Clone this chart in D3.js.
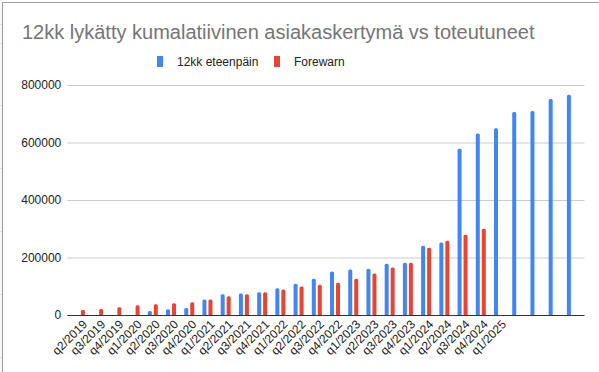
<!DOCTYPE html>
<html>
<head>
<meta charset="utf-8">
<script src="https://cdn.jsdelivr.net/npm/d3@7"></script>
<style>
  body { margin: 0; background: #fff; }
  svg { display: block; font-family: "Liberation Sans", Arial, sans-serif; }
</style>
</head>
<body>
<div id="chart"></div>
<script>
// quarters, last four columns have no label in the original
var quarters = ["q2/2019","q3/2019","q4/2019","q1/2020","q2/2020","q3/2020","q4/2020",
  "q1/2021","q2/2021","q3/2021","q4/2021","q1/2022","q2/2022","q3/2022","q4/2022",
  "q1/2023","q2/2023","q3/2023","q4/2023","q1/2024","q2/2024","q3/2024","q4/2024",
  "q1/2025","","","",""];

var eteenpain = [null,null,null,null,14000,20000,24000,
  54000,72000,75000,79000,93000,109000,126000,151000,
  158000,161000,178000,182000,241000,252000,578000,631000,
  650000,706000,710000,751000,766000];

var forewarn = [17000,21000,27000,34000,37000,41000,44000,
  54000,65000,72000,79000,89000,99000,105000,112000,
  126000,144000,165000,182000,234000,258000,279000,300000,
  null,null,null,null,null];

var seriesNames = ["12kk eteenpäin", "Forewarn"];
var seriesColors = ["#4285f4", "#ea4335"];
var yTicks = [0, 200000, 400000, 600000, 800000];

var width = 599, height = 372;

var svg = d3.select("#chart").append("svg")
  .attr("width", width)
  .attr("height", height);

// spreadsheet frame behind the chart
svg.append("rect").attr("x", 0).attr("y", 0).attr("width", 2).attr("height", height).attr("fill", "#f8f8f8");
[24, 43, 105, 168, 231, 294, 357].forEach(function(yy) {
  svg.append("line").attr("x1", 0).attr("x2", 2).attr("y1", yy + 0.5).attr("y2", yy + 0.5).attr("stroke", "#e2e2e2");
});
svg.append("line").attr("x1", 2.5).attr("x2", 2.5).attr("y1", 2).attr("y2", height).attr("stroke", "#9e9e9e");
svg.append("line").attr("x1", 2).attr("x2", width).attr("y1", 2.5).attr("y2", 2.5).attr("stroke", "#9e9e9e");

svg.append("text")
  .attr("x", 22)
  .attr("y", 39)
  .attr("fill", "#757575")
  .style("font-size", "20px")
  .text("12kk lykätty kumalatiivinen asiakaskertymä vs toteutuneet");

// legend
var legendX = [157, 274];
seriesNames.forEach(function(name, i) {
  var g = svg.append("g").attr("transform", "translate(" + legendX[i] + ",56)");
  g.append("rect").attr("width", 6).attr("height", 11).attr("fill", seriesColors[i]);
  g.append("text").attr("x", 20).attr("y", 10).attr("fill", "#222")
    .style("font-size", "12px").text(name);
});

var plotLeft = 67.3, plotRight = 584.5;

var y = d3.scaleLinear().domain([0, 800000]).range([315, 85]);

var x0 = d3.scaleBand()
  .domain(d3.range(quarters.length))
  .range([70.8, 581]);

var x1 = d3.scaleBand()
  .domain([0, 1])
  .range([0, 10])
  .paddingInner(1 / 3);

var yAxis = svg.append("g")
  .attr("transform", "translate(" + plotLeft + ",0)")
  .call(d3.axisLeft(y).tickValues(yTicks).tickSize(-(plotRight - plotLeft)).tickPadding(6).tickFormat(d3.format("d")));
yAxis.select(".domain").remove();
yAxis.selectAll(".tick line").attr("stroke", "#cccccc");
yAxis.selectAll(".tick text").attr("fill", "#222").style("font-size", "12px");
yAxis.selectAll(".tick").filter(function(d) { return d === 0; }).select("line").remove();

function barPath(x, w, yTop, yBase) {
  var r = 1.5;
  if (yBase - yTop < r) r = (yBase - yTop) / 2;
  return "M" + x + "," + yBase +
    "V" + (yTop + r) +
    "Q" + x + "," + yTop + " " + (x + r) + "," + yTop +
    "H" + (x + w - r) +
    "Q" + (x + w) + "," + yTop + " " + (x + w) + "," + (yTop + r) +
    "V" + yBase + "Z";
}

var groupOffset = (x0.bandwidth() - 10) / 2;
[eteenpain, forewarn].forEach(function(values, s) {
  svg.append("g")
    .selectAll("path")
    .data(values.map(function(v, i) { return { i: i, v: v }; }).filter(function(d) { return d.v != null; }))
    .enter()
    .append("path")
    .attr("fill", seriesColors[s])
    .attr("d", function(d) {
      return barPath(x0(d.i) + groupOffset + x1(s), x1.bandwidth(), y(d.v), y(0));
    });
});

// baseline
svg.append("line")
  .attr("x1", plotLeft).attr("x2", plotRight)
  .attr("y1", y(0) + 0.5).attr("y2", y(0) + 0.5)
  .attr("stroke", "#333").attr("stroke-width", 1);

var xAxis = svg.append("g")
  .attr("transform", "translate(0," + y(0) + ")")
  .call(d3.axisBottom(x0).tickSize(0).tickFormat(function(i) { return quarters[i]; }));
xAxis.select(".domain").remove();
xAxis.selectAll(".tick text")
  .attr("fill", "#222")
  .style("font-size", "12px")
  .attr("text-anchor", "end")
  .attr("dy", null)
  .attr("y", 0)
  .attr("transform", "translate(8,10) rotate(-45)");
</script>
</body>
</html>
